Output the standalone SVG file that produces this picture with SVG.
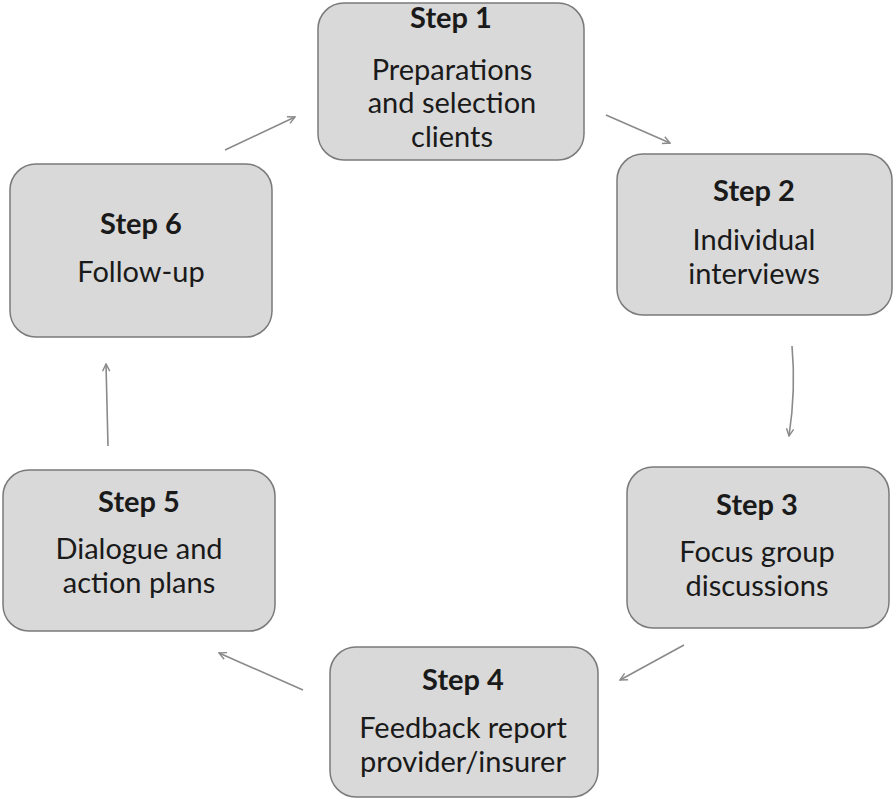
<svg xmlns="http://www.w3.org/2000/svg" width="896" height="803" viewBox="0 0 896 803">
<style>
.box{fill:#d9d9d9;stroke:#7a7a7a;stroke-width:1.5}
.t{font-family:Lato,"Open Sans","Liberation Sans",sans-serif;font-size:29px;fill:#1a1a1a;text-anchor:middle}
.h{font-weight:bold;font-size:29px}
.c{fill:none;stroke:#8a8a8a;stroke-width:1.6}
</style>
<defs>
<marker id="ah" viewBox="0 0 10 10" refX="9" refY="5" markerWidth="9" markerHeight="9" markerUnits="userSpaceOnUse" orient="auto">
<path d="M1,1 L9,5 L1,9" fill="none" stroke="#8a8a8a" stroke-width="1.6"/>
</marker>
</defs>
<rect width="896" height="803" fill="#fff"/>
<g id="connectors">
<path class="c" d="M225,150 L295,117" marker-end="url(#ah)"/>
<path class="c" d="M606,115 L670,143" marker-end="url(#ah)"/>
<path class="c" d="M792,346 Q796,390 789,436" marker-end="url(#ah)"/>
<path class="c" d="M684,645 L620,680" marker-end="url(#ah)"/>
<path class="c" d="M303,690 L219,653" marker-end="url(#ah)"/>
<path class="c" d="M108,446 L106,364" marker-end="url(#ah)"/>
</g>
<g id="step1">
<rect class="box" x="318" y="3" width="266" height="157" rx="26"/>
<text class="t h" x="451" y="28">Step 1</text>
<text class="t" x="452" y="80">Preparations</text>
<text class="t" x="452" y="113">and selection</text>
<text class="t" x="452" y="147">clients</text>
</g>
<g id="step2">
<rect class="box" x="617" y="154" width="275" height="161" rx="26"/>
<text class="t h" x="754" y="201">Step 2</text>
<text class="t" x="754" y="250">Individual</text>
<text class="t" x="754" y="284">interviews</text>
</g>
<g id="step3">
<rect class="box" x="627" y="467" width="262" height="161" rx="26"/>
<text class="t h" x="757" y="515">Step 3</text>
<text class="t" x="757" y="562">Focus group</text>
<text class="t" x="757" y="596">discussions</text>
</g>
<g id="step4">
<rect class="box" x="330" y="647" width="268" height="150" rx="26"/>
<text class="t h" x="463" y="690">Step 4</text>
<text class="t" x="463" y="738">Feedback report</text>
<text class="t" x="463" y="772">provider/insurer</text>
</g>
<g id="step5">
<rect class="box" x="3" y="470" width="272" height="161" rx="26"/>
<text class="t h" x="139" y="512">Step 5</text>
<text class="t" x="139" y="559">Dialogue and</text>
<text class="t" x="139" y="593">action plans</text>
</g>
<g id="step6">
<rect class="box" x="10" y="164" width="262" height="173" rx="26"/>
<text class="t h" x="141" y="234">Step 6</text>
<text class="t" x="141" y="282">Follow-up</text>
</g>
</svg>
